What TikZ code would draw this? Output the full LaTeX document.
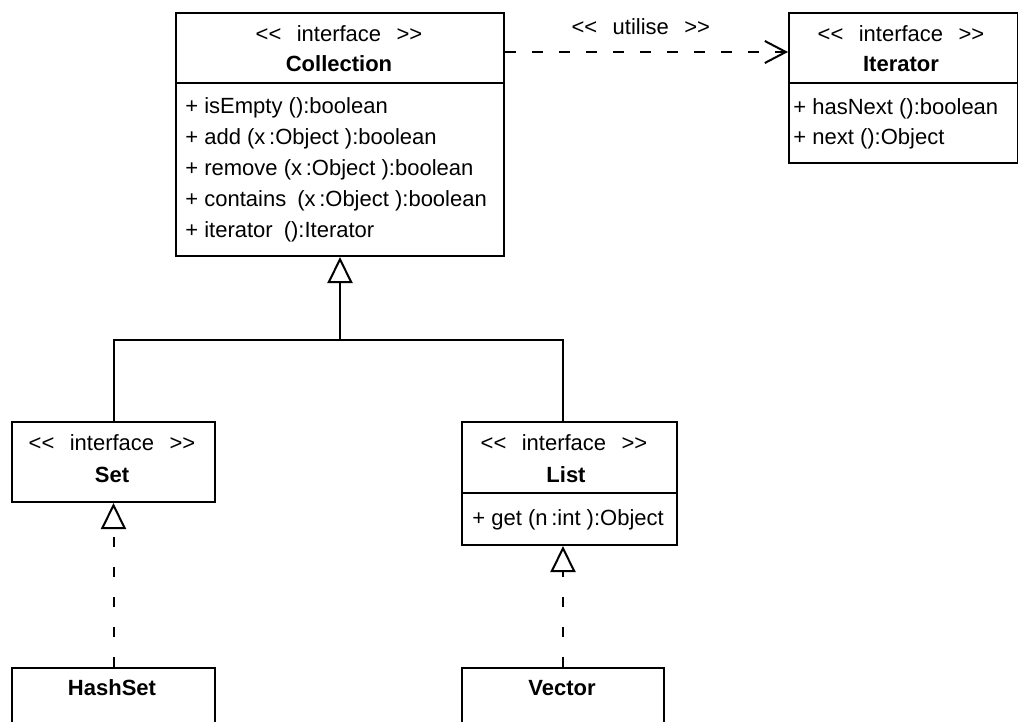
\documentclass[tikz,border=0pt]{standalone}
\usepackage{fontspec}
\setmainfont{Liberation Sans}
\usepackage{tikz}
\usetikzlibrary{arrows.meta,positioning,calc}
\newcommand{\umlstereo}[1]{<\kern0pt<\hspace{0.7em}#1\hspace{0.7em}>\kern0pt>}

\begin{document}
\begin{tikzpicture}[
    x=0.5pt, y=-0.5pt,
    font=\fontsize{11}{15.4}\selectfont,
    cls/.style={draw, line width=1pt, anchor=north west, inner sep=0pt},
    sep/.style={line width=1pt},
    txt/.style={anchor=base, inner sep=0pt},
    ops/.style={anchor=base west, inner sep=0pt, align=left},
    gen/.style={-{Triangle[open, length=13pt, width=12.5pt]}, line width=1pt},
    real/.style={gen, dash pattern=on 5pt off 10pt},
    dep/.style={-{Straight Barb[length=10.5pt, width=11pt]}, line width=1pt, dash pattern=on 5.5pt off 8pt}
]
\useasboundingbox (0,0) rectangle (1018,722);
\clip (0,0) rectangle (1018,722);

% boxes
\node[cls, minimum width=164pt, minimum height=121.5pt] (coll) at (175,12) {};
\node[cls, minimum width=114.5pt, minimum height=75pt] (iter) at (788,12) {};
\node[cls, minimum width=101.5pt, minimum height=40pt] (set) at (11,421) {};
\node[cls, minimum width=107.5pt, minimum height=61.5pt] (list) at (461,421) {};
\node[cls, minimum width=101.5pt, minimum height=60pt] (hash) at (11,667) {};
\node[cls, minimum width=101pt, minimum height=60pt] (vec) at (461,667) {};

\draw[sep] ([yshift=-35.5pt]coll.north west) -- ([yshift=-35.5pt]coll.north east);
\draw[sep] ([yshift=-35.5pt]iter.north west) -- ([yshift=-35.5pt]iter.north east);
\draw[sep] ([yshift=-36pt]list.north west) -- ([yshift=-36pt]list.north east);

% texts (ops nodes sit on the baseline of their last line)
\node[txt] (collst) at (339,42) {\umlstereo{interface}};
\node[txt] (collname) at (339,72) {\textbf{Collection}};
\node[ops] (collops) at (185,237) {+ isEmpty ():boolean\\+ add (x\,:Object ):boolean\\+ remove (x\,:Object ):boolean\\+ contains\enspace(x\,:Object ):boolean\\+ iterator\enspace():Iterator};

\node[txt] (iterst) at (901,42) {\umlstereo{interface}};
\node[txt] (itername) at (901,72) {\textbf{Iterator}};
\node[ops] (iterops) at (793,145) {+ hasNext ():boolean\\+ next ():Object};

\node[txt] (setst) at (112,450) {\umlstereo{interface}};
\node[txt] (setname) at (112,482) {\textbf{Set}};

\node[txt] (listst) at (564,450) {\umlstereo{interface}};
\node[txt] (listname) at (566,482) {\textbf{List}};
\node[ops] (listops) at (472,525) {+ get (n\,:int ):Object};

\node[txt] (hashname) at (112,695) {\textbf{HashSet}};
\node[txt] (vecname) at (562,695) {\textbf{Vector}};

% connectors
\coordinate (fork) at ([yshift=-41.5pt]coll.south);
\draw[sep] (set.north) |- (fork) -| (list.north -| vec.north);
\draw[gen] (fork) -- (coll.south);
\draw[real] (hash.north) -- (set.south);
\draw[real] (vec.north) -- (vec.north |- list.south);
\draw[dep] ([yshift=-20pt]coll.north east) -- node[above=8pt, inner sep=0pt, pos=0.48] (use) {\umlstereo{utilise}} ([yshift=-20pt]iter.north west);
\end{tikzpicture}
\end{document}
